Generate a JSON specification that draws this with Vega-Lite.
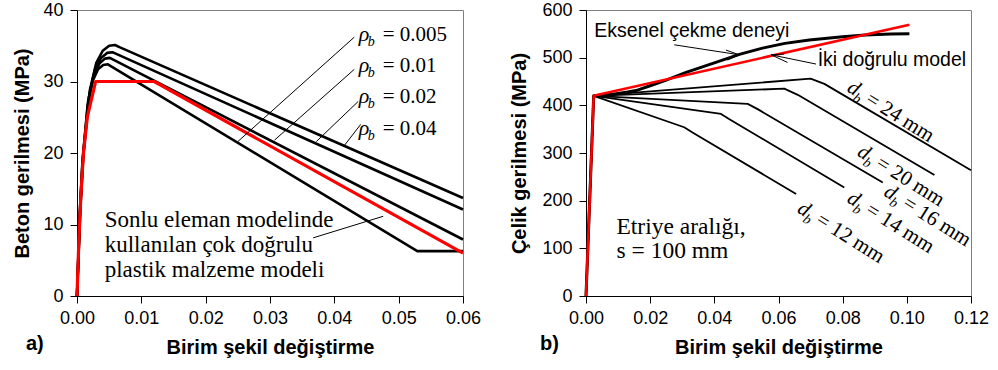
{
  "$schema": "https://vega.github.io/schema/vega-lite/v6.json",
  "background": "white",
  "padding": {"left": 12, "top": 0, "right": 0, "bottom": 0},
  "bounds": "flush",
  "spacing": 123,
  "config": {
    "view": {"stroke": "#7f7f7f", "strokeWidth": 1},
    "axis": {
      "grid": false,
      "domainColor": "black",
      "domainWidth": 1,
      "tickColor": "black",
      "tickSize": 7,
      "labelFont": "Liberation Sans",
      "labelFontSize": 18,
      "labelColor": "black",
      "labelFlush": false,
      "labelOverlap": false,
      "titleFont": "Liberation Sans",
      "titleFontSize": 20,
      "titleFontWeight": "bold",
      "titleColor": "black"
    }
  },
  "datasets": {
    "leftCurves": [
      {"s": "0.04", "x": 0, "y": 0}, {"s": "0.04", "x": 0.0005, "y": 11.9}, {"s": "0.04", "x": 0.001, "y": 19.9}, {"s": "0.04", "x": 0.002, "y": 28.8}, {"s": "0.04", "x": 0.003, "y": 32.6}, {"s": "0.04", "x": 0.004, "y": 34.3}, {"s": "0.04", "x": 0.005, "y": 35.0}, {"s": "0.04", "x": 0.0059, "y": 35.1}, {"s": "0.04", "x": 0.0066, "y": 34.8}, {"s": "0.04", "x": 0.06, "y": 13.7},
      {"s": "0.02", "x": 0, "y": 0}, {"s": "0.02", "x": 0.00047, "y": 11.5}, {"s": "0.02", "x": 0.00094, "y": 19.4}, {"s": "0.02", "x": 0.00187, "y": 27.9}, {"s": "0.02", "x": 0.0028, "y": 31.7}, {"s": "0.02", "x": 0.00374, "y": 33.3}, {"s": "0.02", "x": 0.00468, "y": 34.0}, {"s": "0.02", "x": 0.0055, "y": 34.1}, {"s": "0.02", "x": 0.06, "y": 12.1},
      {"s": "0.01", "x": 0, "y": 0}, {"s": "0.01", "x": 0.00043, "y": 11.3}, {"s": "0.01", "x": 0.00087, "y": 18.9}, {"s": "0.01", "x": 0.00173, "y": 27.3}, {"s": "0.01", "x": 0.0026, "y": 30.9}, {"s": "0.01", "x": 0.00347, "y": 32.5}, {"s": "0.01", "x": 0.00434, "y": 33.2}, {"s": "0.01", "x": 0.0051, "y": 33.3}, {"s": "0.01", "x": 0.06, "y": 7.9},
      {"s": "0.005", "x": 0, "y": 0}, {"s": "0.005", "x": 0.00041, "y": 11.0}, {"s": "0.005", "x": 0.00082, "y": 18.4}, {"s": "0.005", "x": 0.00163, "y": 26.5}, {"s": "0.005", "x": 0.00245, "y": 30.1}, {"s": "0.005", "x": 0.00326, "y": 31.7}, {"s": "0.005", "x": 0.00408, "y": 32.3}, {"s": "0.005", "x": 0.0048, "y": 32.4}, {"s": "0.005", "x": 0.0529, "y": 6.27}, {"s": "0.005", "x": 0.06, "y": 6.27}
    ],
    "leftRed": [
      {"x": 0, "y": 0}, {"x": 0.0003, "y": 8}, {"x": 0.0006, "y": 14}, {"x": 0.001, "y": 20}, {"x": 0.0016, "y": 25}, {"x": 0.0029, "y": 30}, {"x": 0.012, "y": 30}, {"x": 0.06, "y": 6}
    ],
    "leftLeaders": [
      {"id": 1, "x": 0.0431, "y": 36.2}, {"id": 1, "x": 0.025, "y": 21.6},
      {"id": 2, "x": 0.0431, "y": 31.7}, {"id": 2, "x": 0.0307, "y": 21.8},
      {"id": 3, "x": 0.0437, "y": 27.2}, {"id": 3, "x": 0.0372, "y": 21.6},
      {"id": 4, "x": 0.0441, "y": 24.0}, {"id": 4, "x": 0.0416, "y": 21.1},
      {"id": 5, "x": 0.0367, "y": 8.13}, {"id": 5, "x": 0.0476, "y": 11.15}
    ],
    "rhoLabels": [
      {"x": 0.0438, "y": 35.6, "t": "= 0.005"},
      {"x": 0.0438, "y": 31.26, "t": "= 0.01"},
      {"x": 0.0438, "y": 26.94, "t": "= 0.02"},
      {"x": 0.0438, "y": 22.54, "t": "= 0.04"}
    ],
    "leftNote": [
      {"x": 0.0043, "y": 9.7, "t": "Sonlu eleman modelinde"},
      {"x": 0.0043, "y": 6.1, "t": "kullanılan çok doğrulu"},
      {"x": 0.0043, "y": 2.65, "t": "plastik malzeme modeli"}
    ],
    "rightDb": [
      {"s": "24", "x": 0, "y": 0}, {"s": "24", "x": 0.0024, "y": 420}, {"s": "24", "x": 0.07, "y": 456}, {"s": "24", "x": 0.0743, "y": 445}, {"s": "24", "x": 0.12, "y": 264},
      {"s": "20", "x": 0, "y": 0}, {"s": "20", "x": 0.0024, "y": 420}, {"s": "20", "x": 0.0618, "y": 435}, {"s": "20", "x": 0.066, "y": 422}, {"s": "20", "x": 0.1086, "y": 254},
      {"s": "16", "x": 0, "y": 0}, {"s": "16", "x": 0.0024, "y": 420}, {"s": "16", "x": 0.0504, "y": 403}, {"s": "16", "x": 0.0535, "y": 392}, {"s": "16", "x": 0.0925, "y": 238},
      {"s": "14", "x": 0, "y": 0}, {"s": "14", "x": 0.0024, "y": 420}, {"s": "14", "x": 0.0421, "y": 382}, {"s": "14", "x": 0.0447, "y": 371}, {"s": "14", "x": 0.0805, "y": 227.5},
      {"s": "12", "x": 0, "y": 0}, {"s": "12", "x": 0.0024, "y": 420}, {"s": "12", "x": 0.0306, "y": 354}, {"s": "12", "x": 0.0332, "y": 343}, {"s": "12", "x": 0.0655, "y": 214}
    ],
    "rightTest": [
      {"x": 0, "y": 0}, {"x": 0.0024, "y": 420}, {"x": 0.008, "y": 423}, {"x": 0.013, "y": 428}, {"x": 0.0156, "y": 431}, {"x": 0.02, "y": 441}, {"x": 0.025, "y": 453}, {"x": 0.0312, "y": 469}, {"x": 0.04, "y": 489}, {"x": 0.0478, "y": 507}, {"x": 0.055, "y": 520}, {"x": 0.062, "y": 530}, {"x": 0.0696, "y": 537}, {"x": 0.08, "y": 544}, {"x": 0.087, "y": 547.5}, {"x": 0.095, "y": 549.5}, {"x": 0.1008, "y": 550}
    ],
    "rightRed": [
      {"x": 0, "y": 0}, {"x": 0.0024, "y": 420}, {"x": 0.1008, "y": 569}
    ],
    "arrows": [
      {"id": 1, "x": 0.0275, "y": 527}, {"id": 1, "x": 0.0478, "y": 506},
      {"id": 2, "x": 0.0436, "y": 516}, {"id": 2, "x": 0.0478, "y": 506},
      {"id": 3, "x": 0.0441, "y": 495}, {"id": 3, "x": 0.0478, "y": 506},
      {"id": 4, "x": 0.0717, "y": 486.6}, {"id": 4, "x": 0.0577, "y": 506},
      {"id": 5, "x": 0.0618, "y": 507.6}, {"id": 5, "x": 0.0577, "y": 506},
      {"id": 6, "x": 0.0628, "y": 490}, {"id": 6, "x": 0.0577, "y": 506}
    ],
    "sansNotes": [
      {"x": 0.0026, "y": 544, "t": "Eksenel çekme deneyi"},
      {"x": 0.0722, "y": 483, "t": "İki doğrulu model"}
    ],
    "serifNotes": [
      {"x": 0.0095, "y": 129.6, "t": "Etriye aralığı,"},
      {"x": 0.0095, "y": 79.2, "t": "s = 100 mm"}
    ],
    "dbLabels": [
      {"x": 0.081, "y": 430.5, "t": "= 24 mm"},
      {"x": 0.0842, "y": 296, "t": "= 20 mm"},
      {"x": 0.0925, "y": 212, "t": "= 16 mm"},
      {"x": 0.081, "y": 198, "t": "= 14 mm"},
      {"x": 0.0655, "y": 177, "t": "= 12 mm"}
    ]
  },
  "hconcat": [
    {
      "width": 386,
      "height": 286,
      "title": {"text": "a)", "orient": "bottom", "anchor": "start", "frame": "bounds", "font": "Liberation Sans", "fontSize": 20, "fontWeight": "bold", "color": "black", "offset": 0, "dx": 13, "dy": -23},
      "encoding": {
        "x": {"field": "x", "type": "quantitative", "scale": {"domain": [0, 0.06]},
              "axis": {"values": [0, 0.01, 0.02, 0.03, 0.04, 0.05, 0.06], "format": ".2f", "title": "Birim şekil değiştirme", "labelPadding": 6, "titlePadding": 10}},
        "y": {"field": "y", "type": "quantitative", "scale": {"domain": [0, 40]},
              "axis": {"values": [0, 10, 20, 30, 40], "title": "Beton gerilmesi (MPa)", "labelPadding": 7, "titlePadding": 10}}
      },
      "layer": [
        {"data": {"name": "leftCurves"}, "mark": {"type": "line", "color": "black", "strokeWidth": 2.6, "strokeJoin": "round"}, "encoding": {"detail": {"field": "s"}}},
        {"data": {"name": "leftRed"}, "mark": {"type": "line", "color": "#ff0000", "strokeWidth": 3.2, "strokeJoin": "round"}, "encoding": {}},
        {"data": {"name": "leftLeaders"}, "mark": {"type": "line", "color": "black", "strokeWidth": 1}, "encoding": {"detail": {"field": "id"}}},
        {"data": {"name": "rhoLabels"}, "mark": {"type": "text", "text": "ρ", "font": "Liberation Serif", "fontStyle": "italic", "fontSize": 22, "align": "left", "baseline": "alphabetic", "color": "black"}},
        {"data": {"name": "rhoLabels"}, "mark": {"type": "text", "text": "b", "font": "Liberation Serif", "fontStyle": "italic", "fontSize": 14, "align": "left", "baseline": "alphabetic", "dx": 9, "dy": 5, "color": "black"}},
        {"data": {"name": "rhoLabels"}, "mark": {"type": "text", "font": "Liberation Serif", "fontSize": 21, "align": "left", "baseline": "alphabetic", "dx": 24, "color": "black"}, "encoding": {"text": {"field": "t"}}},
        {"data": {"name": "leftNote"}, "mark": {"type": "text", "font": "Liberation Serif", "fontSize": 23, "align": "left", "baseline": "alphabetic", "color": "black"}, "encoding": {"text": {"field": "t"}}}
      ]
    },
    {
      "width": 385,
      "height": 286,
      "title": {"text": "b)", "orient": "bottom", "anchor": "start", "frame": "bounds", "font": "Liberation Sans", "fontSize": 20, "fontWeight": "bold", "color": "black", "offset": 0, "dx": 30, "dy": -23},
      "encoding": {
        "x": {"field": "x", "type": "quantitative", "scale": {"domain": [0, 0.12]},
              "axis": {"values": [0, 0.02, 0.04, 0.06, 0.08, 0.1, 0.12], "format": ".2f", "title": "Birim şekil değiştirme", "labelPadding": 6, "titlePadding": 10}},
        "y": {"field": "y", "type": "quantitative", "scale": {"domain": [0, 600]},
              "axis": {"values": [0, 100, 200, 300, 400, 500, 600], "title": "Çelik gerilmesi (MPa)", "labelPadding": 7, "titlePadding": 12}}
      },
      "layer": [
        {"data": {"name": "rightDb"}, "mark": {"type": "line", "color": "black", "strokeWidth": 1.8, "strokeJoin": "round"}, "encoding": {"detail": {"field": "s"}}},
        {"data": {"name": "rightTest"}, "mark": {"type": "line", "color": "black", "strokeWidth": 3, "strokeJoin": "round"}, "encoding": {}},
        {"data": {"name": "rightRed"}, "mark": {"type": "line", "color": "#ff0000", "strokeWidth": 2.6, "strokeJoin": "round"}, "encoding": {}},
        {"data": {"name": "arrows"}, "mark": {"type": "line", "color": "black", "strokeWidth": 1}, "encoding": {"detail": {"field": "id"}}},
        {"data": {"name": "sansNotes"}, "mark": {"type": "text", "font": "Liberation Sans", "fontSize": 19.5, "align": "left", "baseline": "alphabetic", "color": "black"}, "encoding": {"text": {"field": "t"}}},
        {"data": {"name": "serifNotes"}, "mark": {"type": "text", "font": "Liberation Serif", "fontSize": 23.5, "align": "left", "baseline": "alphabetic", "color": "black"}, "encoding": {"text": {"field": "t"}}},
        {"data": {"name": "dbLabels"}, "mark": {"type": "text", "text": "d", "font": "Liberation Serif", "fontStyle": "italic", "fontSize": 21, "align": "left", "baseline": "alphabetic", "angle": 32, "color": "black"}},
        {"data": {"name": "dbLabels"}, "mark": {"type": "text", "text": "b", "font": "Liberation Serif", "fontStyle": "italic", "fontSize": 14, "align": "left", "baseline": "alphabetic", "angle": 32, "dx": 10, "dy": 5, "color": "black"}},
        {"data": {"name": "dbLabels"}, "mark": {"type": "text", "font": "Liberation Serif", "fontSize": 21, "align": "left", "baseline": "alphabetic", "angle": 32, "dx": 22, "color": "black"}, "encoding": {"text": {"field": "t"}}}
      ]
    }
  ]
}
